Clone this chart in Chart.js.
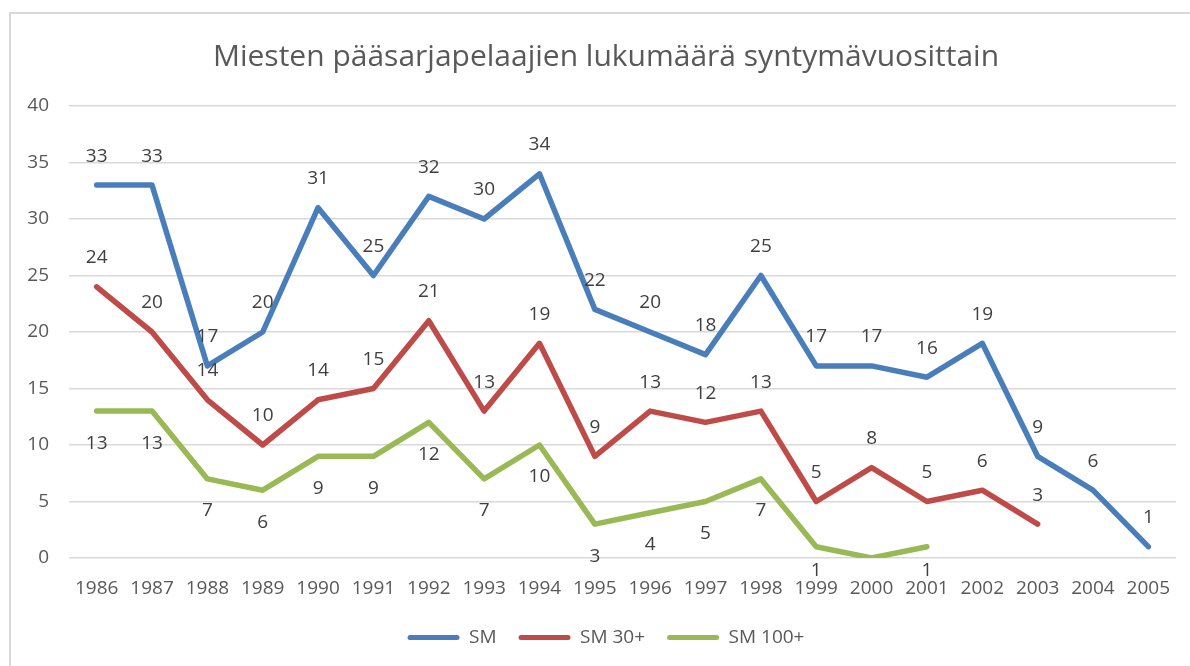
<!DOCTYPE html>
<html>
<head>
<meta charset="utf-8">
<script src="https://cdn.jsdelivr.net/npm/chart.js@4"></script>
<style>
  body { margin: 0; background: #fff; }
  #wrap { width: 1190px; height: 666px; }
</style>
</head>
<body>
<div id="wrap"><canvas id="playersChart"></canvas></div>
<script>
// --- data ---
const years = ["1986", "1987", "1988", "1989", "1990", "1991", "1992", "1993", "1994", "1995",
  "1996", "1997", "1998", "1999", "2000", "2001", "2002", "2003", "2004", "2005"];
const sm = [33, 33, 17, 20, 31, 25, 32, 30, 34, 22, 20, 18, 25, 17, 17, 16, 19, 9, 6, 1];
const sm30 = [24, 20, 14, 10, 14, 15, 21, 13, 19, 9, 13, 12, 13, 5, 8, 5, 6, 3, null, null];
const sm100 = [13, 13, 7, 6, 9, 9, 12, 7, 10, 3, 4, 5, 7, 1, 0, 1, null, null, null, null];
const yTicks = [0, 5, 10, 15, 20, 25, 30, 35, 40];

const FONT = "'Open Sans', sans-serif";
const TEXT = "#595959";

// where each series puts its value labels (Excel style)
const labelSide = ["above", "above", "below"];

// value labels drawn above / below each point
const valueLabels = {
  id: "valueLabels",
  afterDatasetsDraw(chart) {
    const ctx = chart.ctx;
    const area = chart.chartArea;
    ctx.save();
    ctx.font = "19px " + FONT;
    ctx.fillStyle = "#404040";
    ctx.textAlign = "center";
    ctx.textBaseline = "middle";
    chart.data.datasets.forEach((ds, i) => {
      const meta = chart.getDatasetMeta(i);
      meta.data.forEach((pt, j) => {
        const v = ds.data[j];
        if (v === null || v === 0) return; // 0 would sit on the axis labels
        let y = labelSide[i] === "above" ? pt.y - 29 : pt.y + 32;
        y = Math.min(y, area.bottom + 13);
        ctx.fillText(String(v), pt.x, y);
      });
    });
    ctx.restore();
  }
};

// thin grey frame round the chart, like the Excel chart area
const frame = {
  id: "frame",
  beforeDraw(chart) {
    const ctx = chart.ctx;
    ctx.save();
    ctx.strokeStyle = "#d9d9d9";
    ctx.lineWidth = 2;
    ctx.strokeRect(10, 13, 1300, 800);
    ctx.restore();
  }
};

function lineSet(label, data, color) {
  return {
    label: label,
    data: data,
    borderColor: color,
    backgroundColor: color,
    borderWidth: 5.5,
    borderCapStyle: "round",
    borderJoinStyle: "round",
    pointRadius: 0,
    pointHoverRadius: 0,
    tension: 0,
    spanGaps: false,
  };
}

new Chart(document.getElementById("playersChart"), {
  type: "line",
  data: {
    labels: years,
    datasets: [
      lineSet("SM", sm, "#4a7ebb"),
      lineSet("SM 30+", sm30, "#be4b48"),
      lineSet("SM 100+", sm100, "#98b954"),
    ],
  },
  options: {
    responsive: true,
    maintainAspectRatio: false,
    animation: false,
    // the Excel chart area runs a little past the right edge of the picture
    layout: { padding: { left: 10, right: -12, top: 12, bottom: 9 } },
    plugins: {
      title: {
        display: true,
        text: "Miesten pääsarjapelaajien lukumäärä syntymävuosittain",
        color: TEXT,
        font: { family: FONT, size: 30, weight: "normal" },
        padding: { top: 27, bottom: 31 },
      },
      legend: {
        position: "bottom",
        labels: {
          color: TEXT,
          font: { family: FONT, size: 19 },
          boxWidth: 52,
          boxHeight: 5,
          padding: 22,
          generateLabels(chart) {
            const items = Chart.defaults.plugins.legend.labels.generateLabels(chart);
            items.forEach((it) => { it.lineWidth = 0; it.borderRadius = 2.5; });
            return items;
          },
        },
      },
      tooltip: { enabled: false },
    },
    scales: {
      x: {
        offset: true,
        grid: { display: false, drawTicks: false },
        border: { display: false },
        ticks: {
          color: TEXT,
          font: { family: FONT, size: 19 },
          padding: 19,
          maxRotation: 0,
          autoSkip: false,
        },
        afterFit(scale) { scale.height = 48; },
      },
      y: {
        min: 0,
        max: 40,
        grid: { color: "#d9d9d9", lineWidth: 1.5, drawTicks: false },
        border: { display: false },
        afterBuildTicks(scale) { scale.ticks = yTicks.map((v) => ({ value: v })); },
        ticks: {
          color: TEXT,
          font: { family: FONT, size: 19 },
          padding: 20,
        },
        afterFit(scale) { scale.width = 59; },
      },
      // empty spacer on the right so the plot stops where the reference does
      yRight: {
        position: "right",
        display: true,
        grid: { display: false, drawTicks: false },
        border: { display: false },
        ticks: { display: false },
        afterFit(scale) { scale.width = 26; },
      },
    },
  },
  plugins: [frame, valueLabels],
});
</script>
</body>
</html>
